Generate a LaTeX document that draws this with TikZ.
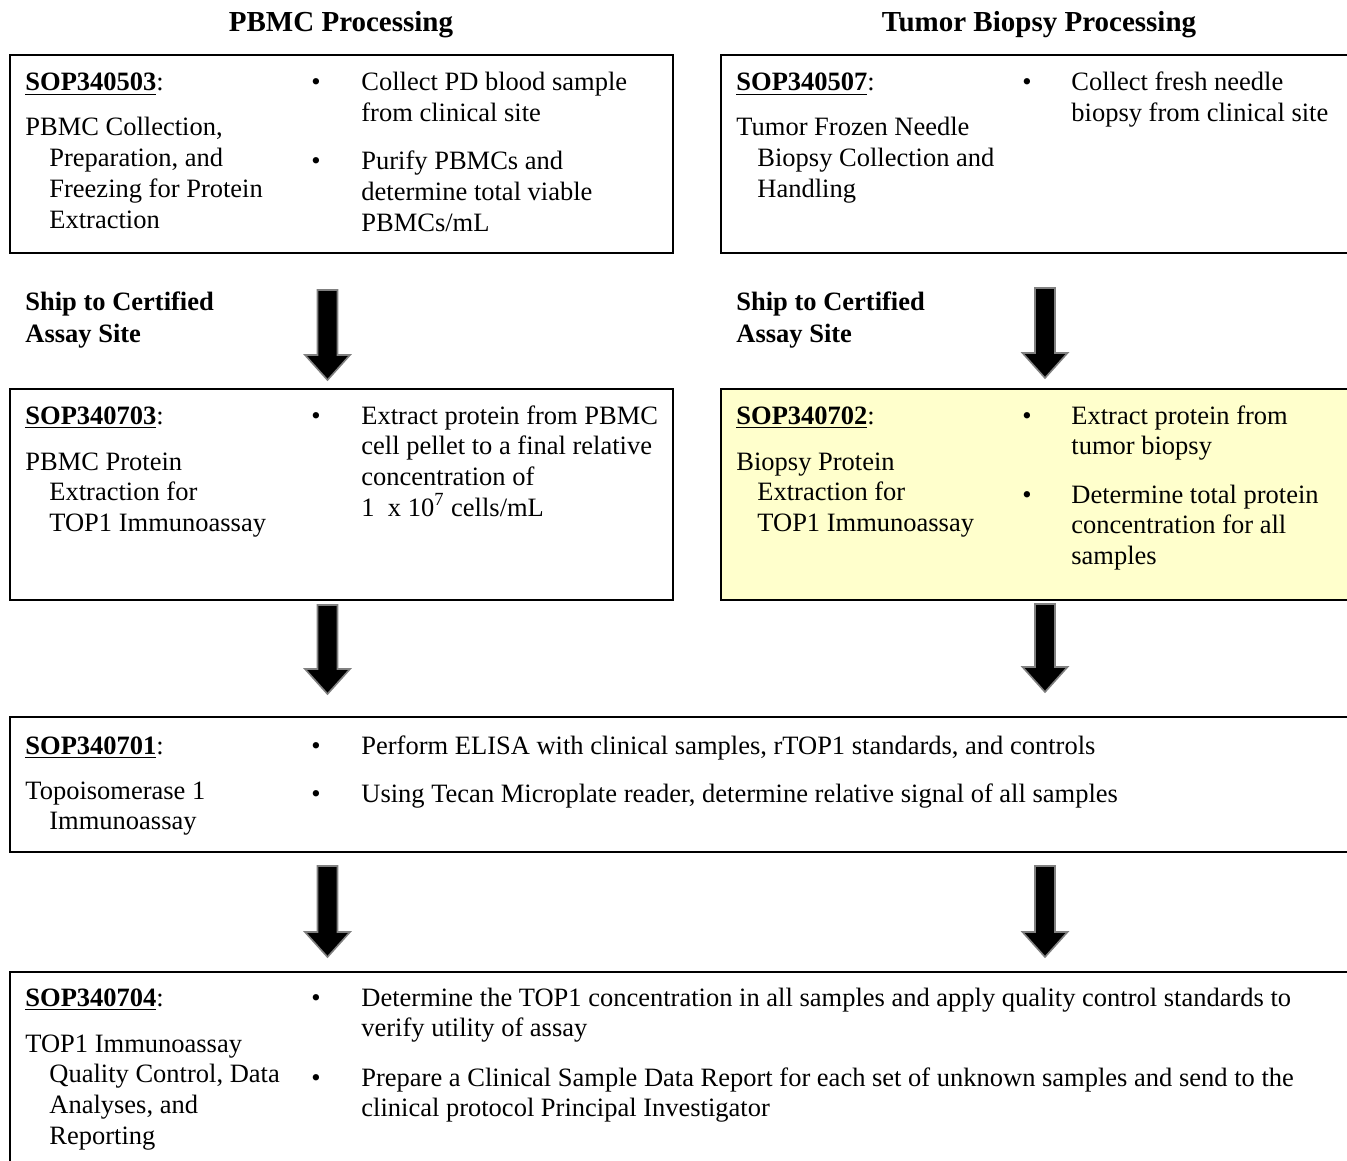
\documentclass[tikz,border=0pt]{standalone}
\usepackage{fontspec}
\setmainfont{Liberation Serif}
\usetikzlibrary{calc,fit}
\newcommand\bodyfont{\fontsize{13.25}{15.4}\selectfont}
\newcommand\headfont{\fontsize{14.5}{16}\selectfont\bfseries}
\newcommand\shipfont{\fontsize{13.25}{16}\selectfont\bfseries}
\newcommand\sopref[1]{\textbf{\underline{#1}}:}
\newcommand\ind{\hspace*{12pt}}
\newcommand\indr{\hspace*{10.5pt}}
\newcommand\blockarrow[2]{%
  \draw[bigarrow] ($(#1)+(-10,0)$) -- ($(#1)+(10,0)$) -- ($(#2)+(10,-25)$)
    -- ($(#2)+(22.5,-25)$) -- (#2) -- ($(#2)+(-22.5,-25)$) -- ($(#2)+(-10,-25)$) -- cycle;}
\definecolor{noteyellow}{HTML}{FFFFCC}
\tikzset{
  box/.style={draw=black, line width=1.1pt, inner sep=0pt},
  txt/.style={anchor=base west, inner sep=0pt, align=left, font=\bodyfont},
  bul/.style={anchor=base, inner sep=0pt, font=\bodyfont},
  hd/.style={anchor=base, inner sep=0pt, font=\headfont},
  ship/.style={anchor=base west, inner sep=0pt, align=left, font=\shipfont},
  bigarrow/.style={fill=black, draw=black!50, line width=0.8pt, line join=miter}
}
% note: multi-line nodes are anchored at the baseline of their LAST line
\begin{document}
\begin{tikzpicture}[x=0.5pt, y=-0.5pt]
\clip (0,0) rectangle (1347,1160);
\fill[white] (0,0) rectangle (1347,1160);

% headers
\node[hd] (h1) at (341,32) {PBMC Processing};
\node[hd] (h2) at (1039,32) {Tumor Biopsy Processing};

% boxes
\node[box, fit={(10,55) (673,253)}] (b1) {};
\node[box, fit={(721,55) (1362,253)}] (b2) {};
\node[box, fit={(10,389) (673,600)}] (b3) {};
\node[box, fill=noteyellow, fit={(721,389) (1362,600)}] (b4) {};
\node[box, fit={(10,717) (1362,852)}] (b5) {};
\node[box, fit={(10,972) (1362,1178)}] (b6) {};

\begin{scope}[shift={(0,2)}]
% box 1
\node[txt] (s1) at (25,89) {\sopref{SOP340503}};
\node[txt] (t1) at (25,226.4) {PBMC Collection,\\\ind Preparation, and\\\ind Freezing for Protein\\\ind Extraction};
\node[bul] (u1a) at (316,89) {\textbullet};
\node[txt] (p1a) at (361,119.8) {Collect PD blood sample\\from clinical site};
\node[bul] (u1b) at (316,168) {\textbullet};
\node[txt] (p1b) at (361,229.6) {Purify PBMCs and\\determine total viable\\PBMCs/mL};

% box 2
\node[txt] (s2) at (736,89) {\sopref{SOP340507}};
\node[txt] (t2) at (736,195.6) {Tumor Frozen Needle\\\indr Biopsy Collection and\\\indr Handling};
\node[bul] (u2a) at (1027,89) {\textbullet};
\node[txt] (p2a) at (1071,119.8) {Collect fresh needle\\biopsy from clinical site};

% ship labels
\node[ship] (sh1) at (25,341) {Ship to Certified\\Assay Site};
\node[ship] (sh2) at (736,341) {Ship to Certified\\Assay Site};

% box 3
\node[txt] (s3) at (25,422) {\sopref{SOP340703}};
\node[txt] (t3) at (25,529.6) {PBMC Protein\\\ind Extraction for\\\ind TOP1 Immunoassay};
\node[bul] (u3a) at (316,422) {\textbullet};
\node[txt] (p3a) at (361,514.4) {Extract protein from PBMC\\cell pellet to a final relative\\concentration of\\1~ x 10\textsuperscript{7} cells/mL};

% box 4
\node[txt] (s4) at (736,422) {\sopref{SOP340702}};
\node[txt] (t4) at (736,529.6) {Biopsy Protein\\\indr Extraction for\\\indr TOP1 Immunoassay};
\node[bul] (u4a) at (1027,422) {\textbullet};
\node[txt] (p4a) at (1071,452.8) {Extract protein from\\tumor biopsy};
\node[bul] (u4b) at (1027,501) {\textbullet};
\node[txt] (p4b) at (1071,562.6) {Determine total protein\\concentration for all\\samples};

% box 5
\node[txt] (s5) at (25,752) {\sopref{SOP340701}};
\node[txt] (t5) at (25,827.8) {Topoisomerase 1\\\ind Immunoassay};
\node[bul] (u5a) at (316,752) {\textbullet};
\node[txt] (p5a) at (361,752) {Perform ELISA with clinical samples, rTOP1 standards, and controls};
\node[bul] (u5b) at (316,800) {\textbullet};
\node[txt] (p5b) at (361,800) {Using Tecan Microplate reader, determine relative signal of all samples};

% box 6
\node[txt] (s6) at (25,1004) {\sopref{SOP340704}};
\node[txt] (t6) at (25,1142.4) {TOP1 Immunoassay\\\ind Quality Control, Data\\\ind Analyses, and\\\ind Reporting};
\node[bul] (u6a) at (316,1004) {\textbullet};
\node[txt] (p6a) at (361,1034.8) {Determine the TOP1 concentration in all samples and apply quality control standards to\\verify utility of assay};
\node[bul] (u6b) at (316,1084) {\textbullet};
\node[txt] (p6b) at (361,1114.8) {Prepare a Clinical Sample Data Report for each set of unknown samples and send to the\\clinical protocol Principal Investigator};
\end{scope}

% arrows
\coordinate (a1s) at (327.5,290); \coordinate (a1e) at (327.5,380);
\coordinate (a2s) at (1045,288);  \coordinate (a2e) at (1045,378);
\coordinate (a3s) at (327.5,605); \coordinate (a3e) at (327.5,694);
\coordinate (a4s) at (1045,604);  \coordinate (a4e) at (1045,692);
\coordinate (a5s) at (327.5,866); \coordinate (a5e) at (327.5,957);
\coordinate (a6s) at (1045,866);  \coordinate (a6e) at (1045,957);
\blockarrow{a1s}{a1e}
\blockarrow{a2s}{a2e}
\blockarrow{a3s}{a3e}
\blockarrow{a4s}{a4e}
\blockarrow{a5s}{a5e}
\blockarrow{a6s}{a6e}
\end{tikzpicture}
\end{document}
